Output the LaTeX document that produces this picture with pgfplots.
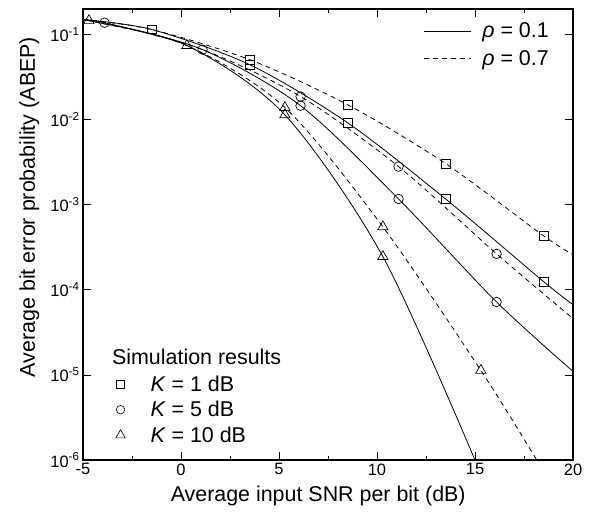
\documentclass[border=0pt]{standalone}
\usepackage{fontspec}
\setmainfont{Liberation Sans}
\usepackage{pgfplots}
\pgfplotsset{compat=1.18}

\newcommand{\lblfont}{\fontsize{21.5}{24}\selectfont}
\newcommand{\tckfont}{\fontsize{16.5}{18}\selectfont}

\pgfplotsset{
  curve/.style={black, line width=0.8pt, smooth, no marks},
  dcurve/.style={curve, dash pattern=on 5bp off 4bp},
  sim/.style={black, only marks, mark options={solid, line width=0.7pt, fill=white}},
}

\begin{document}
\begin{tikzpicture}
\path[use as bounding box] (-83bp,-53bp) rectangle (510bp,460bp);
\begin{axis}[
  scale only axis, width=490bp, height=451bp,
  at={(0,0)}, anchor=south west,
  xmin=-5, xmax=20, ymin=1e-6, ymax=0.2,
  ymode=log, log basis y=10,
  xtick={-5,0,5,10,15,20}, minor x tick num=1,
  ytick={1e-6,1e-5,1e-4,1e-3,1e-2,1e-1},
  tick align=inside,
  major tick length=8bp, minor tick length=4.5bp,
  axis line style={line width=1.2pt},
  every tick/.append style={black, line width=0.7pt},
  tick label style={font=\tckfont},
  /pgf/number format/assume math mode=true,
  yticklabel={10\textsuperscript{\pgfmathparse{int(round(\tick))}\pgfmathresult}},
  label style={font=\lblfont},
  xlabel={Average input SNR per bit (dB)},
  ylabel={Average bit error probability (ABEP)},
  xlabel style={at={(axis description cs:0.48,-0.091)}, anchor=base},
  ylabel style={at={(axis description cs:-0.098,0.561)}, anchor=base},
  clip=true,
  legend style={draw=none, fill=none, at={(axis description cs:0.957,0.976)},
    anchor=north east, font=\lblfont, row sep=7bp, inner sep=1bp},
  legend cell align=left,
  legend image code/.code={\path[draw=none] (0bp,0bp) -- (56bp,0bp); \draw[#1] (0bp,0bp) -- (47bp,0bp);},
]
\addlegendimage{black, line width=0.8pt}
\addlegendentry{\textit{ρ} = 0.1}
\addlegendimage{black, line width=0.8pt, dash pattern=on 5bp off 4bp}
\addlegendentry{\textit{ρ} = 0.7}

% K = 1 dB
\addplot[curve, forget plot] coordinates {
  (-5,0.150) (-1.5,0.115) (3.5,0.0444) (8.5,0.0092) (13.5,0.00117) (18.5,0.000125) (20,6.7e-5)};
\addplot[dcurve, forget plot] coordinates {
  (-5,0.150) (-1.5,0.115) (3.5,0.0508) (8.5,0.0150) (13.5,0.00305) (18.5,0.000431) (20,2.6e-4)};
% K = 5 dB
\addplot[curve, forget plot] coordinates {
  (-5,0.148) (-3.9,0.138) (1.1,0.0666) (6.1,0.0146) (11.1,0.00117) (16.1,7.2e-5) (20,1.1e-5)};
\addplot[dcurve, forget plot] coordinates {
  (-5,0.148) (-3.9,0.138) (1.1,0.0666) (6.1,0.0187) (11.1,0.00281) (16.1,0.000265) (20,4.6e-5)};
% K = 10 dB
\addplot[curve, forget plot] coordinates {
  (-5,0.147) (-4.7,0.146) (0.3,0.0743) (5.3,0.0114) (10.3,0.000246) (15,1e-6)};
\addplot[dcurve, forget plot] coordinates {
  (-5,0.147) (-4.7,0.146) (0.3,0.0743) (5.3,0.0139) (10.3,0.00055) (15.3,1.13e-5) (18.15,1e-6)};

% simulation results
\addplot[sim, mark=square, mark size=4.3pt, forget plot] coordinates {
  (-1.5,0.115) (3.5,0.0444) (8.5,0.0092) (13.5,0.00117) (18.5,0.000125)
  (3.5,0.0508) (8.5,0.0150) (13.5,0.00305) (18.5,0.000431)};
\addplot[sim, mark=o, mark size=4.8pt, forget plot] coordinates {
  (-3.9,0.138) (1.1,0.0666) (6.1,0.0146) (11.1,0.00117) (16.1,7.2e-5)
  (6.1,0.0187) (11.1,0.00281) (16.1,0.000265)};
\addplot[sim, mark=triangle, mark size=6pt, forget plot] coordinates {
  (-4.7,0.146) (0.3,0.0743) (5.3,0.0114) (10.3,0.000246)
  (5.3,0.0139) (10.3,0.00055) (15.3,1.13e-5)};
\end{axis}

\begin{axis}[
  scale only axis, width=490bp, height=451bp,
  at={(0,0)}, anchor=south west,
  hide axis, xmin=0, xmax=1, ymin=0, ymax=1,
  legend style={draw=none, fill=none, at={(axis description cs:0.062,0.194)},
    anchor=north west, font=\lblfont, row sep=4.5bp, inner sep=1bp},
  legend cell align=left,
  legend image code/.code={\path[draw=none] (-6bp,0bp) -- (28bp,0bp); \draw[#1] plot coordinates {(0bp,0bp)};},
]
\addlegendimage{black, only marks, mark=square, mark size=4pt, mark options={line width=0.6pt}}
\addlegendentry{\textit{K} = 1 dB}
\addlegendimage{black, only marks, mark=o, mark size=4.3pt, mark options={line width=0.6pt}}
\addlegendentry{\textit{K} = 5 dB}
\addlegendimage{black, only marks, mark=triangle, mark size=5.5pt, mark options={line width=0.6pt}}
\addlegendentry{\textit{K} = 10 dB}
\node[anchor=base west, font=\lblfont, inner sep=0pt] at (axis description cs:0.059,0.211) {Simulation results};
\end{axis}
\end{tikzpicture}
\end{document}
